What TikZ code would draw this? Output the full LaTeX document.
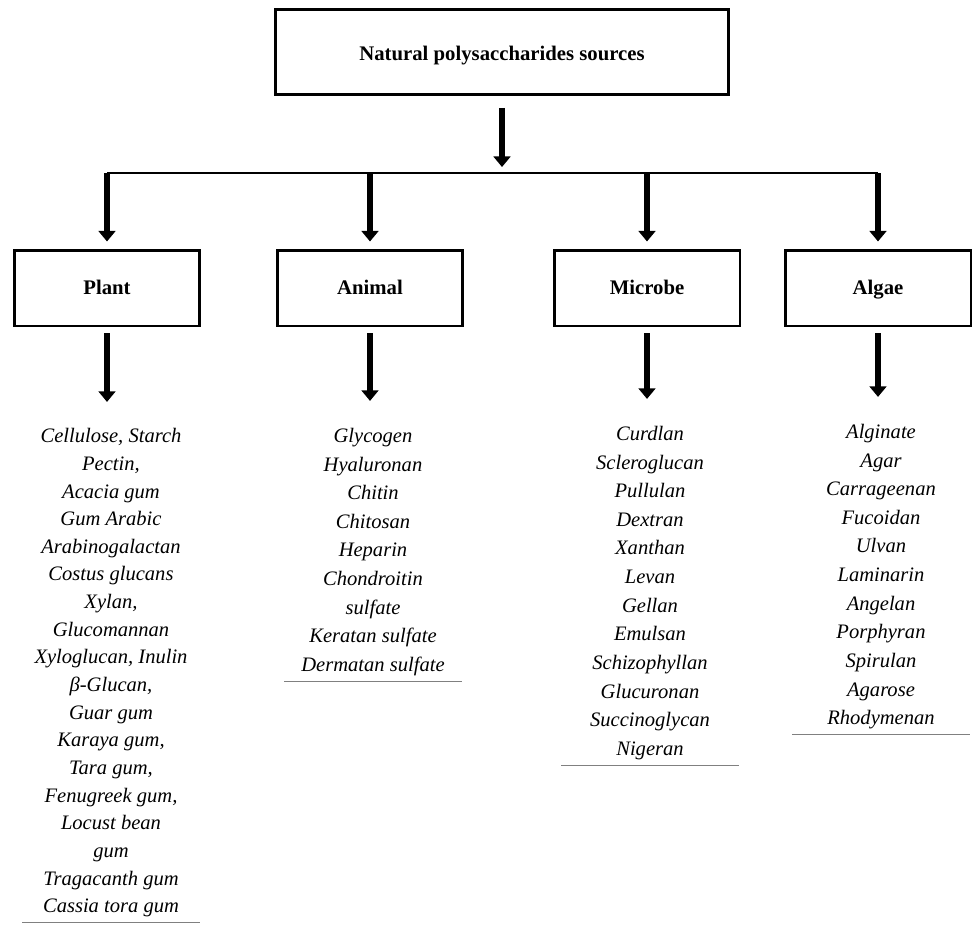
\documentclass[tikz,border=0pt]{standalone}
\usepackage{fontspec}
\setmainfont{Liberation Serif}
\usetikzlibrary{arrows.meta}

\begin{document}
\begin{tikzpicture}[x=0.02cm,y=-0.02cm,
	topbox/.style={draw,line width=1.7pt,minimum width=9.08cm,minimum height=1.7cm,text height=10.5pt,text depth=1pt,font=\fontsize{11.8}{14}\selectfont\bfseries},
	catbox/.style={draw,line width=1.7pt,minimum width=3.72cm,minimum height=1.52cm,text height=9.2pt,text depth=2pt,font=\fontsize{11.8}{14}\selectfont\bfseries},
	items/.style={anchor=north,align=center,inner sep=0pt,font=\fontsize{11.7}{#1}\selectfont\itshape},
	items/.default=16.3pt,
	arr/.style={line width=3.4pt,-{Triangle[width=9.5pt,length=6pt]}},
	bus/.style={line width=1.7pt},
	rule/.style={draw=gray,line width=0.8pt}]
	\useasboundingbox (0,0) rectangle (972,943);

	\node[topbox] (src) at (502,52) {Natural polysaccharides sources};
	\coordinate (bar) at (502,173);

	\node[catbox] (plant) at (107,288) {Plant};
	\node[catbox] (animal) at (370,288) {Animal};
	\node[catbox] (microbe) at (647,288) {Microbe};
	\node[catbox] (algae) at (878,288) {Algae};

	\node[items=15.74pt] (plantlist) at (111,423) {\strut Cellulose, Starch\\Pectin,\\Acacia gum\\Gum Arabic\\Arabinogalactan\\Costus glucans\\Xylan,\\Glucomannan\\Xyloglucan, Inulin\\β-Glucan,\\Guar gum\\Karaya gum,\\Tara gum,\\Fenugreek gum,\\Locust bean\\gum\\Tragacanth gum\\Cassia tora gum\strut};
	\node[items] (animallist) at (373,422) {\strut Glycogen\\Hyaluronan\\Chitin\\Chitosan\\Heparin\\Chondroitin\\sulfate\\Keratan sulfate\\Dermatan sulfate\strut};
	\node[items] (microbelist) at (650,420) {\strut Curdlan\\Scleroglucan\\Pullulan\\Dextran\\Xanthan\\Levan\\Gellan\\Emulsan\\Schizophyllan\\Glucuronan\\Succinoglycan\\Nigeran\strut};
	\node[items] (algaelist) at (881,418) {\strut Alginate\\Agar\\Carrageenan\\Fucoidan\\Ulvan\\Laminarin\\Angelan\\Porphyran\\Spirulan\\Agarose\\Rhodymenan\strut};

	\draw[arr,shorten <=6.8pt,shorten >=3.4pt] (src) -- (bar);
	\draw[bus] (plant |- bar) -- (algae |- bar);
	\draw[arr,shorten >=4pt] (plant |- bar) -- (plant);
	\draw[arr,shorten >=4pt] (animal |- bar) -- (animal);
	\draw[arr,shorten >=4pt] (microbe |- bar) -- (microbe);
	\draw[arr,shorten >=4pt] (algae |- bar) -- (algae);

	\draw[arr,shorten <=3.4pt,shorten >=12pt] (plant.south) -- (plant.south |- plantlist.north);
	\draw[arr,shorten <=3.4pt,shorten >=12pt] (animal.south) -- (animal.south |- animallist.north);
	\draw[arr,shorten <=3.4pt,shorten >=12pt] (microbe.south) -- (microbe.south |- microbelist.north);
	\draw[arr,shorten <=3.4pt,shorten >=12pt] (algae.south) -- (algae.south |- algaelist.north);

	\draw[rule] (plantlist.south) ++(-89,1) -- ++(178,0);
	\draw[rule] (animallist.south) ++(-89,1) -- ++(178,0);
	\draw[rule] (microbelist.south) ++(-89,1) -- ++(178,0);
	\draw[rule] (algaelist.south) ++(-89,1) -- ++(178,0);
\end{tikzpicture}
\end{document}
